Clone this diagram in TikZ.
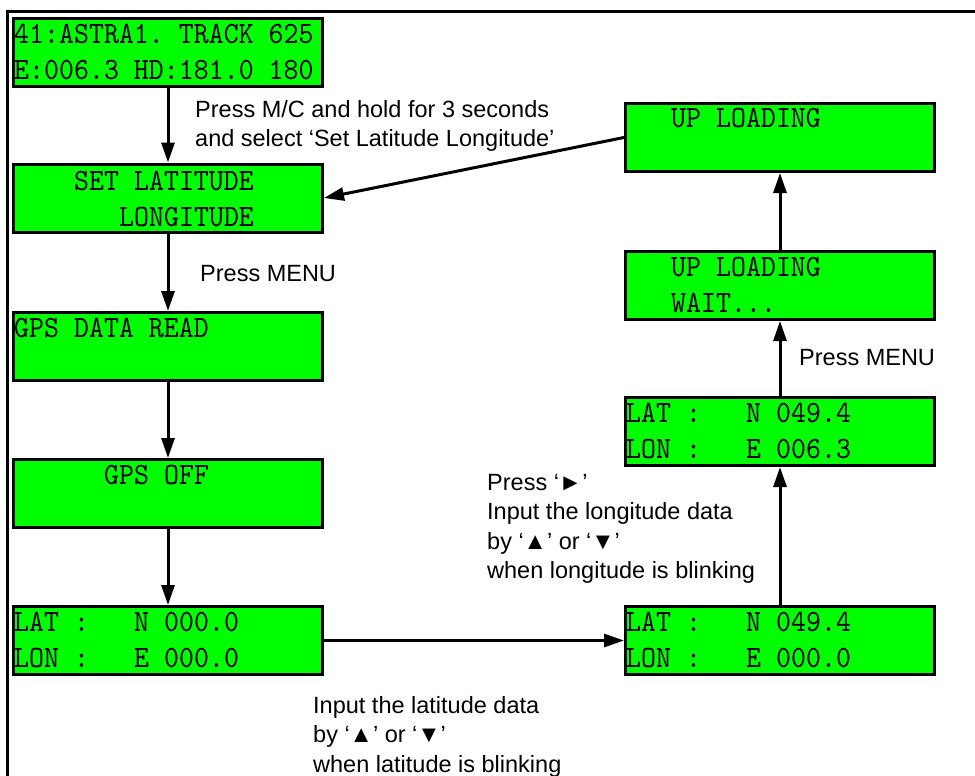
\documentclass[tikz,border=0pt]{standalone}
\usepackage{fontspec}
\setmainfont{Liberation Sans}
\newfontfamily\lcdfont[FakeStretch=0.92]{lmmono10-regular.otf}
\usetikzlibrary{arrows.meta}
\definecolor{lcdgreen}{RGB}{0,255,0}
\tikzset{
  lcdbox/.style={rectangle,draw,line width=3pt,fill=lcdgreen,
    minimum width=309pt,minimum height=68pt,inner sep=0pt},
  lcdline/.style={anchor=base west,inner sep=0pt,
    font=\lcdfont\fontsize{31}{31}\selectfont\frenchspacing},
  note/.style={anchor=base west,align=left,inner sep=0pt,
    font=\fontsize{23.5}{29.5}\selectfont},
}
\begin{document}
\begin{tikzpicture}[x=1pt,y=-1pt]
        \useasboundingbox (0,0) rectangle (975,776);
        \draw[line width=3pt] (975,12) -- (7,12) -- (7,776);

        \begin{scope}[every node/.style={lcdbox}]
          \node (b1) at (168,52.5)  {};
          \node (b2) at (168,198)   {};
          \node (b3) at (168,346.5) {};
          \node (b4) at (168,493.5) {};
          \node (b5) at (168,640.5) {};
          \node (b6) at (780,640.5) {};
          \node (b7) at (780,431.5) {};
          \node (b8) at (780,285.5) {};
          \node (b9) at (780,137.5) {};
        \end{scope}

        % display texts
        \begin{scope}[every node/.style={lcdline}]
          \node (t1a) at (14,43.5)  {41:ASTRA1. TRACK 625};
          \node (t1b) at (14,80)    {E:006.3 HD:181.0 180};
          \node (t2a) at (74,190)   {SET LATITUDE};
          \node (t2b) at (119,226)  {LONGITUDE};
          \node (t3a) at (14,337)   {GPS DATA READ};
          \node (t4a) at (104,484)  {GPS OFF};
          \node (t5a) at (14,631.5) {LAT :};
          \node (t5b) at (134,631.5){N 000.0};
          \node (t5c) at (14,667)   {LON :};
          \node (t5d) at (134,667)  {E 000.0};
          \node (t6a) at (626,631.5){LAT :};
          \node (t6b) at (746,631.5){N 049.4};
          \node (t6c) at (626,667)  {LON :};
          \node (t6d) at (746,667)  {E 000.0};
          \node (t7a) at (626,422.5){LAT :};
          \node (t7b) at (746,422.5){N 049.4};
          \node (t7c) at (626,458)  {LON :};
          \node (t7d) at (746,458)  {E 006.3};
          \node (t8a) at (671,276)  {UP LOADING};
          \node (t8b) at (671,312)  {WAIT...};
          \node (t9a) at (671,128)  {UP LOADING};
        \end{scope}

        % notes (base = last line)
        \begin{scope}[every node/.style={note}]
          \node (n1) at (195,146.5) {Press M/C and hold for 3 seconds\\and select ‘Set Latitude Longitude’};
          \node (n2) at (200,281)   {Press MENU};
          \node (n3) at (799,365)   {Press MENU};
          \node (n4) at (487,578.5) {Press ‘►’\\Input the longitude data\\by ‘▲’ or ‘▼’\\when longitude is blinking};
          \node (n5) at (313,772)   {Input the latitude data\\by ‘▲’ or ‘▼’\\when latitude is blinking};
        \end{scope}

        \begin{scope}[every edge/.style={draw,line width=3pt,-{Triangle[length=20pt,width=13pt]}}]
          \path (b1) edge (b2);
          \path (b2) edge (b3);
          \path (b3) edge (b4);
          \path (b4) edge (b5);
          \path (b5) edge (b6);
          \path (b6) edge (b7);
          \path (b7) edge (b8);
          \path (b8) edge (b9);
          \path (b9.west) edge (b2.east);
        \end{scope}

\end{tikzpicture}
\end{document}
